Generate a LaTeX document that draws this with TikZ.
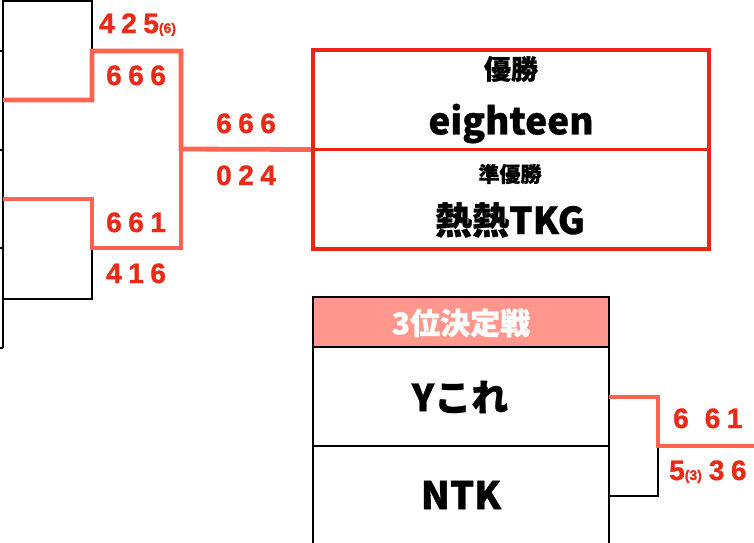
\documentclass[tikz,border=0pt]{standalone}
\usepackage{fontspec}
\newfontfamily\jpfont{Noto Sans CJK JP}[BoldFeatures={FakeBold=0.8}]
\newfontfamily\numfont{Liberation Sans}[BoldFeatures={FakeBold=1.2}]
\definecolor{boxred}{HTML}{EE2415}
\definecolor{linered}{HTML}{FF6450}
\definecolor{scorered}{HTML}{E92A17}
\definecolor{headpink}{HTML}{FF978C}
\newcommand\sgap{\hspace{6.5pt}}
\newcommand\sml[1]{{\fontsize{14}{14}\selectfont #1}}
\tikzset{
  blk/.style={line width=1.6pt, black},
  win/.style={line width=4.8pt, linered},
  score/.style={text=scorered, font=\numfont\bfseries\fontsize{28}{28}\selectfont, inner sep=0pt, anchor=base west},
  jp/.style={font=\jpfont\bfseries\fontsize{#1}{#1}\selectfont, inner sep=0pt},
}
\begin{document}
\begin{tikzpicture}[x=1pt,y=-1pt]
\useasboundingbox (0,0) rectangle (754,542);
% ---------- left bracket (cut off cells) ----------
\coordinate (c1) at (3,1);
\coordinate (c2) at (3,100);
\coordinate (c3) at (3,199);
\coordinate (c4) at (3,299);
\coordinate (s1) at (92,51);
\coordinate (s2) at (92,248);
\coordinate (f1) at (181,149);
\draw[blk] (3,0) -- (3,348);
\foreach \yy in {51,150,248,348} \draw[blk] (0,\yy) -- (3,\yy);
\draw[blk] (c1) -| (s1);
\draw[blk] (c4) -| (s2);
\draw[blk] (f1) -- (181,248);
% ---------- final box ----------
\node[draw=boxred, line width=4pt, minimum width=396pt, minimum height=199pt, inner sep=0pt] (final) at (511,149.5) {};
\draw[boxred, line width=3.5pt] (final.west) -- (final.east);
\node[jp=27] (yusho) at (511,69) {優勝};
\node[jp=37] (eighteen) at (511,123.5) {eighteen};
\node[jp=21] (junyusho) at (510,174) {準優勝};
\node[jp=37] (tkg) at (510,220) {熱熱TKG};
% winner lines
\draw[win] (c2) -| (s1) -| (f1) -- (final.west);
\draw[win] (c3) -| (s2) -| (f1);
% ---------- scores ----------
\node[score] at (99,33) {4\sgap2\sgap5\sml{(6)}};
\node[score] at (106,85) {6\sgap6\sgap6};
\node[score] at (216,133) {6\sgap6\sgap6};
\node[score] at (216,185) {0\sgap2\sgap4};
\node[score] at (106,232) {6\sgap6\sgap1};
\node[score] at (106,283) {4\sgap1\sgap6};
% ---------- 3rd place ----------
\fill[headpink] (313,297) rectangle (609,347);
\draw[blk] (313,560) -- (313,297) -- (609,297) -- (609,560);
\draw[blk] (313,347) -- (609,347);
\draw[blk] (313,446) -- (609,446);
\node[jp=30, text=white] (third) at (461,323) {3位決定戦};
\node[jp=37] (ykore) at (460,397) {Yこれ};
\node[jp=38] (ntk) at (461,495) {NTK};
\coordinate (t1) at (609,397);
\coordinate (t2) at (609,496);
\coordinate (tm) at (658,446);
\coordinate (tend) at (754,446);
\draw[blk] (t2) -| (tm);
\draw[win] (t1) -| (tm) -- (tend);
\node[score] at (673,428) {6\hspace{16pt}6\sgap1};
\node[score] at (669,480) {5\sml{(3)}\hspace{7pt}3\sgap6};
\end{tikzpicture}
\end{document}
